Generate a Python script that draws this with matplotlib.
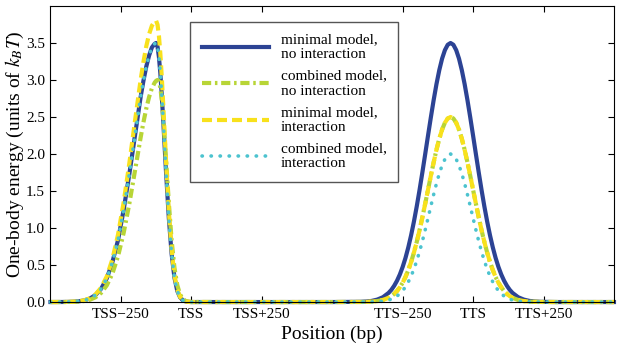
import matplotlib
matplotlib.use("Agg")
import matplotlib.pyplot as plt

plt.rcParams["font.family"] = "serif"
plt.rcParams["font.serif"] = ["Liberation Serif", "DejaVu Serif"]
plt.rcParams["mathtext.fontset"] = "stix"

# positions relative to TSS (bp); TTS sits at +1000
pos = [-500, -460, -440, -420, -400, -380, -360, -340, -320, -300, -280, -260,
       -240, -220, -200, -180, -170, -160, -150, -140, -130, -125, -120, -115,
       -110, -105, -100, -90, -80, -70, -60, -50, -40, -30, -20, -10, 0,
       100, 300, 500,
       600, 620, 640, 660, 680, 700,
       710, 720, 730, 740, 750, 760, 770, 780, 790, 800, 810, 820, 830, 840, 850,
       860, 870, 880, 890, 900, 910, 920, 930, 940, 950, 960, 970, 980, 990,
       1000, 1010, 1020, 1030, 1040, 1050, 1060, 1070, 1080, 1090, 1100, 1110,
       1120, 1130,
       1140, 1160, 1180, 1200, 1220, 1240,
       1300, 1500]

minimal_noint = [0, 0.0005, 0.0015, 0.004, 0.0095, 0.022, 0.047, 0.095, 0.18, 0.32, 0.54, 0.84,
                 1.25, 1.73, 2.25, 2.77, 2.99, 3.18, 3.33, 3.44, 3.49, 3.5, 3.45, 3.31,
                 3.09, 2.8, 2.47, 1.77, 1.14, 0.65, 0.33, 0.15, 0.063, 0.023, 0.008, 0.002, 0,
                 0, 0, 0,
                 0.003, 0.007, 0.015, 0.033, 0.065, 0.123,
                 0.165, 0.22, 0.288, 0.372, 0.474, 0.595, 0.738, 0.902, 1.087, 1.292, 1.515, 1.752, 1.998, 2.248, 2.493,
                 2.728, 2.944, 3.133, 3.289, 3.404, 3.476, 3.5, 3.476, 3.404, 3.289, 3.133, 2.944, 2.728, 2.493,
                 2.248, 1.998, 1.752, 1.515, 1.292, 1.087, 0.902, 0.738, 0.595, 0.474, 0.372, 0.288,
                 0.22, 0.165,
                 0.123, 0.065, 0.033, 0.015, 0.007, 0.003,
                 0, 0]

combined_noint = [0, 0.0003, 0.0009, 0.0024, 0.006, 0.014, 0.031, 0.064, 0.124, 0.226, 0.386, 0.621,
                  0.938, 1.331, 1.775, 2.222, 2.429, 2.614, 2.769, 2.889, 2.966, 2.989, 3.0, 2.985,
                  2.895, 2.731, 2.506, 1.941, 1.345, 0.834, 0.463, 0.23, 0.102, 0.041, 0.014, 0.005, 0.001,
                  0, 0, 0,
                  0.0008, 0.0022, 0.0055, 0.0127, 0.0278, 0.057,
                  0.08, 0.11, 0.149, 0.199, 0.261, 0.338, 0.431, 0.541, 0.668, 0.812, 0.971, 1.145, 1.328, 1.516, 1.705,
                  1.887, 2.057, 2.206, 2.33, 2.423, 2.48, 2.5, 2.48, 2.423, 2.33, 2.206, 2.057, 1.887, 1.705,
                  1.516, 1.328, 1.145, 0.971, 0.812, 0.668, 0.541, 0.431, 0.338, 0.261, 0.199, 0.149,
                  0.11, 0.08,
                  0.057, 0.0278, 0.0127, 0.0055, 0.0022, 0.0008,
                  0, 0]

minimal_int = [0, 0.0006, 0.0016, 0.0042, 0.0103, 0.024, 0.051, 0.103, 0.195, 0.347, 0.581, 0.915,
               1.352, 1.877, 2.447, 3.002, 3.244, 3.454, 3.619, 3.734, 3.793, 3.8, 3.748, 3.595,
               3.354, 3.043, 2.685, 1.923, 1.234, 0.708, 0.363, 0.167, 0.069, 0.025, 0.008, 0.002, 0,
               0, 0, 0,
               0.0008, 0.0022, 0.0055, 0.0127, 0.0278, 0.057,
               0.08, 0.11, 0.149, 0.199, 0.261, 0.338, 0.431, 0.541, 0.668, 0.812, 0.971, 1.145, 1.328, 1.516, 1.705,
               1.887, 2.057, 2.206, 2.33, 2.423, 2.48, 2.5, 2.48, 2.423, 2.33, 2.206, 2.057, 1.887, 1.705,
               1.516, 1.328, 1.145, 0.971, 0.812, 0.668, 0.541, 0.431, 0.338, 0.261, 0.199, 0.149,
               0.11, 0.08,
               0.057, 0.0278, 0.0127, 0.0055, 0.0022, 0.0008,
               0, 0]

combined_int = [0, 0.0005, 0.0015, 0.004, 0.0095, 0.022, 0.047, 0.095, 0.18, 0.32, 0.54, 0.84,
                1.25, 1.73, 2.25, 2.77, 2.99, 3.18, 3.33, 3.44, 3.49, 3.5, 3.45, 3.31,
                3.09, 2.8, 2.47, 1.77, 1.14, 0.65, 0.33, 0.15, 0.063, 0.023, 0.008, 0.002, 0,
                0, 0, 0,
                0.0002, 0.0007, 0.0019, 0.0049, 0.012, 0.027,
                0.04, 0.057, 0.081, 0.112, 0.153, 0.205, 0.271, 0.35, 0.445, 0.556, 0.682, 0.822, 0.974, 1.132, 1.294,
                1.452, 1.601, 1.735, 1.846, 1.93, 1.982, 2.0, 1.982, 1.93, 1.846, 1.735, 1.601, 1.452, 1.294,
                1.132, 0.974, 0.822, 0.682, 0.556, 0.445, 0.35, 0.271, 0.205, 0.153, 0.112, 0.081,
                0.057, 0.04,
                0.027, 0.012, 0.0049, 0.0019, 0.0007, 0.0002,
                0, 0]

tick_pos = [-250, 0, 250, 750, 1000, 1250]
tick_labels = ["TSS\u2212250", "TSS", "TSS+250", "TTS\u2212250", "TTS", "TTS+250"]
y_ticks = [0.0, 0.5, 1.0, 1.5, 2.0, 2.5, 3.0, 3.5]

labels = ["minimal model,\nno interaction", "combined model,\nno interaction",
          "minimal model,\ninteraction", "combined model,\ninteraction"]

fig = plt.figure(figsize=(6.23, 3.44), dpi=100)
ax = fig.add_axes([0.081, 0.122, 0.9045, 0.8606])

ax.plot(pos, minimal_noint, color="#2c4394", lw=3.0, ls="-", label=labels[0], clip_on=False)
ax.plot(pos, combined_noint, color="#b8d536", lw=3.0, ls=(0, (2.2, 0.9, 0.6, 0.9)),
        label=labels[1], clip_on=False)
ax.plot(pos, minimal_int, color="#f8e11c", lw=3.0, ls=(0, (2.4, 1.2)), label=labels[2], clip_on=False)
ax.plot(pos, combined_int, color="#4cc3cf", lw=2.6, ls=(0, (0.1, 2.4)), dash_capstyle="round",
        label=labels[3], clip_on=False)

ax.set_xlim(-500, 1500)
ax.set_ylim(0, 4.0)
ax.set_xticks(tick_pos)
ax.set_xticklabels(tick_labels)
ax.set_yticks(y_ticks)
ax.set_yticklabels(["%.1f" % v for v in y_ticks])
ax.tick_params(direction="in", top=True, right=True, length=4, labelsize=11, pad=4)
ax.set_xlabel("Position (bp)", fontsize=14, labelpad=4)
ax.set_ylabel("One-body energy (units of $k_BT$)", fontsize=14, labelpad=0)

leg = ax.legend(loc="upper left", bbox_to_anchor=(0.2477, 0.947), borderaxespad=0,
                fontsize=11, handlelength=4.4, handletextpad=0.8, borderpad=0.75,
                labelspacing=0.55, fancybox=False, framealpha=1)
leg.get_frame().set_edgecolor("#555555")
leg.get_frame().set_linewidth(1.0)

fig.savefig("out.png", dpi=100)
